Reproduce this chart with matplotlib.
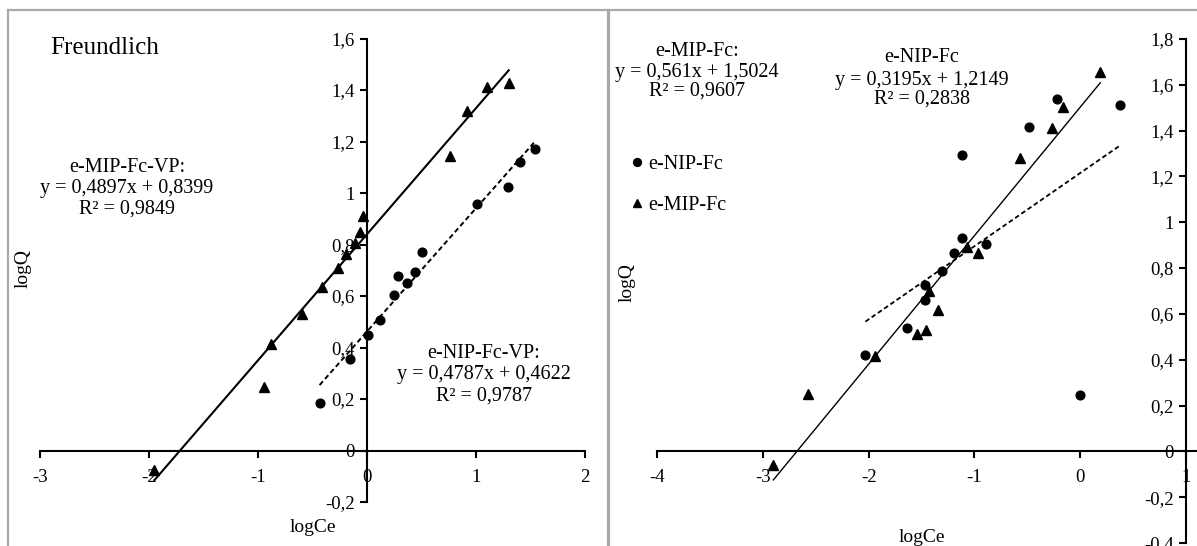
import matplotlib
matplotlib.use("Agg")
import matplotlib.pyplot as plt
from matplotlib.lines import Line2D
import numpy as np

# ---------------- data ----------------
# Left panel (Freundlich, VP)
mip_vp_x = [-1.95, -0.945, -0.885, -0.60, -0.41, -0.27, -0.19, -0.11, -0.064, -0.04, 0.765, 0.915, 1.10, 1.30]
mip_vp_y = [-0.076, 0.248, 0.413, 0.532, 0.636, 0.709, 0.765, 0.804, 0.848, 0.910, 1.142, 1.318, 1.411, 1.427]
nip_vp_x = [-0.435, -0.16, 0.01, 0.12, 0.25, 0.285, 0.37, 0.44, 0.505, 1.01, 1.29, 1.40, 1.54]
nip_vp_y = [0.184, 0.355, 0.450, 0.507, 0.602, 0.678, 0.652, 0.693, 0.771, 0.959, 1.023, 1.119, 1.172]
mip_vp_fit = (0.4897, 0.8399)
nip_vp_fit = (0.4787, 0.4622)

# Right panel (Fc)
nip_x = [-2.03, -1.635, -1.465, -1.465, -1.31, -1.19, -1.12, -0.89, -1.12, -0.48, -0.22, 0.38, 0.0]
nip_y = [0.42, 0.54, 0.659, 0.725, 0.787, 0.868, 0.930, 0.907, 1.293, 1.416, 1.540, 1.514, 0.246]
mip_x = [-2.90, -2.57, -1.94, -1.54, -1.46, -1.43, -1.34, -1.07, -0.97, -0.57, -0.27, -0.16, 0.19]
mip_y = [-0.06, 0.249, 0.415, 0.514, 0.531, 0.70, 0.616, 0.89, 0.868, 1.282, 1.413, 1.503, 1.656]
mip_fit = (0.561, 1.5024)
nip_fit = (0.3195, 1.2149)

left_xticks = [-3, -2, -1, 0, 1, 2]
left_xlabels = ['-3', '-2', '-1', '0', '1', '2']
left_yticks = [-0.2, 0, 0.2, 0.4, 0.6, 0.8, 1.0, 1.2, 1.4, 1.6]
left_ylabels = ['-0,2', '0', '0,2', '0,4', '0,6', '0,8', '1', '1,2', '1,4', '1,6']
right_xticks = [-4, -3, -2, -1, 0, 1]
right_xlabels = ['-4', '-3', '-2', '-1', '0', '1']
right_yticks = [-0.4, -0.2, 0, 0.2, 0.4, 0.6, 0.8, 1.0, 1.2, 1.4, 1.6, 1.8]
right_ylabels = ['-0,4', '-0,2', '0', '0,2', '0,4', '0,6', '0,8', '1', '1,2', '1,4', '1,6', '1,8']

# ---------------- figure ----------------
W, H = 1197, 546
plt.rcParams['font.family'] = ['Liberation Serif', 'DejaVu Serif']
fig = plt.figure(figsize=(W / 100, H / 100), dpi=100)
fig.patch.set_facecolor('white')

def fx(px):
    return px / W

def fy(py):
    return 1 - py / H

TICK_FS = 13.5
TXT_FS = 14.5

# panel frames
frame_col = '#a9a9a9'
fig.add_artist(Line2D([fx(8), fx(W)], [fy(10), fy(10)], color=frame_col, lw=1.6, transform=fig.transFigure))
fig.add_artist(Line2D([fx(8), fx(8)], [fy(10), fy(H)], color=frame_col, lw=1.6, transform=fig.transFigure))
fig.add_artist(Line2D([fx(607.5), fx(607.5)], [fy(10), fy(H)], color=frame_col, lw=2.3, transform=fig.transFigure))


def style_axes(ax, xcross, xticks, xlabels, yticks, ylabels):
    ax.set_facecolor('none')
    for s in ['top', 'right']:
        ax.spines[s].set_visible(False)
    ax.spines['left'].set_position(('data', xcross))
    ax.spines['bottom'].set_position(('data', 0))
    for s in ['left', 'bottom']:
        ax.spines[s].set_linewidth(1.5)
        ax.spines[s].set_color('black')
    ax.set_xticks(xticks)
    ax.set_xticklabels(xlabels)
    ax.set_yticks(yticks)
    ax.set_yticklabels(ylabels)
    ax.tick_params(axis='both', direction='out', length=5, width=1.5, labelsize=TICK_FS, pad=4)
    ax.tick_params(axis='x', pad=8)


# ---------------- left panel ----------------
axL = fig.add_axes([fx(40), fy(502), (585 - 40) / W, (502 - 38.5) / H])
axL.set_xlim(-3, 2)
axL.set_ylim(-0.2, 1.6)
style_axes(axL, 0, left_xticks, left_xlabels, left_yticks, left_ylabels)

xs = np.array([min(mip_vp_x), max(mip_vp_x)])
axL.plot(xs, mip_vp_fit[0] * xs + mip_vp_fit[1], color='black', lw=1.5, zorder=2)
xs = np.array([min(nip_vp_x), max(nip_vp_x)])
axL.plot(xs, nip_vp_fit[0] * xs + nip_vp_fit[1], color='black', lw=1.4, ls=(0, (2.6, 1.6)), zorder=2)
axL.plot(mip_vp_x, mip_vp_y, ls='none', marker='^', ms=7, color='black', zorder=3)
axL.plot(nip_vp_x, nip_vp_y, ls='none', marker='o', ms=6.3, color='black', zorder=3)

fig.text(fx(105), fy(48), 'Freundlich', fontsize=18, ha='center', va='center')
for txt, y in [('e-MIP-Fc-VP:', 167), ('y = 0,4897x + 0,8399', 189), ('R² = 0,9849', 209)]:
    fig.text(fx(127), fy(y), txt, fontsize=TXT_FS, ha='center', va='center')
for txt, y in [('e-NIP-Fc-VP:', 354), ('y = 0,4787x + 0,4622', 375), ('R² = 0,9787', 396)]:
    fig.text(fx(484), fy(y), txt, fontsize=TXT_FS, ha='center', va='center')
fig.text(fx(23), fy(269), 'logQ', fontsize=14, ha='center', va='center', rotation=90)
fig.text(fx(313), fy(528), 'logCe', fontsize=14, ha='center', va='center')

# ---------------- right panel ----------------
axR = fig.add_axes([fx(657), fy(543), (1186 - 657) / W, (543 - 39) / H])
axR.set_xlim(-4, 1)
axR.set_ylim(-0.4, 1.8)
style_axes(axR, 1, right_xticks, right_xlabels, right_yticks, right_ylabels)
axR.spines['bottom'].set_bounds(-4, 1.2)

xs = np.array([min(mip_x), max(mip_x)])
axR.plot(xs, mip_fit[0] * xs + mip_fit[1], color='black', lw=1.0, zorder=2)
xs = np.array([min(nip_x), max(nip_x)])
axR.plot(xs, nip_fit[0] * xs + nip_fit[1], color='black', lw=1.3, ls=(0, (2.6, 1.6)), zorder=2)
hN, = axR.plot(nip_x, nip_y, ls='none', marker='o', ms=6.3, color='black', zorder=3, label='e-NIP-Fc')
hM, = axR.plot(mip_x, mip_y, ls='none', marker='^', ms=7, color='black', zorder=3, label='e-MIP-Fc')
axR.set_xlim(-4, 1)

leg = fig.legend(handles=[hN, hM], loc='upper left', bbox_to_anchor=(fx(631), fy(155)),
                 bbox_transform=fig.transFigure, frameon=False, fontsize=TXT_FS,
                 handlelength=0.6, handletextpad=0.25, labelspacing=1.1, borderpad=0,
                 borderaxespad=0, markerscale=0.9)

for txt, y in [('e-MIP-Fc:', 52), ('y = 0,561x + 1,5024', 73), ('R² = 0,9607', 91)]:
    fig.text(fx(697), fy(y), txt, fontsize=TXT_FS, ha='center', va='center')
for txt, y in [('e-NIP-Fc', 58), ('y = 0,3195x + 1,2149', 80), ('R² = 0,2838', 99)]:
    fig.text(fx(922), fy(y), txt, fontsize=TXT_FS, ha='center', va='center')
fig.text(fx(627), fy(283), 'logQ', fontsize=14, ha='center', va='center', rotation=90)
fig.text(fx(922), fy(537), 'logCe', fontsize=14, ha='center', va='center')

fig.savefig('out.png', dpi=100)
